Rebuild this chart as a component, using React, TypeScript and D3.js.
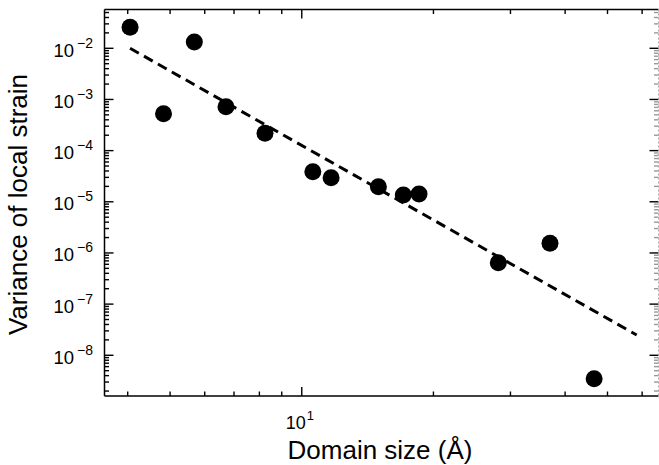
import React from "react";
import * as d3 from "d3";

// domain size (Å) and variance of local strain
const domainSize = [4.05, 4.83, 5.68, 6.71, 8.24, 10.6, 11.67, 14.97, 17.07, 18.54, 28.14, 36.94, 46.6];
const strainVar = [2.57e-2, 5.27e-4, 1.33e-2, 7.22e-4, 2.18e-4, 3.88e-5, 2.96e-5, 1.97e-5, 1.36e-5, 1.42e-5, 6.46e-7, 1.55e-6, 3.49e-9];

// power-law fit, end points
const fitX = [4.05, 58.3];
const fitY = [1.0e-2, 2.49e-8];

const xDomain = [3.54, 65.4];
const yDomain = [5.73e-2, 1.6e-9];
const xMajor = [10];
const yMajor = [-2, -3, -4, -5, -6, -7, -8];

const W = 659;
const H = 465;
const left = 104.5;
const right = 658.5;
const top = 9.5;
const bottom = 396;
const font = "'Liberation Sans', Arial, Helvetica, sans-serif";

export default function App() {
  const x = d3.scaleLog().domain(xDomain).range([left, right]);
  const y = d3.scaleLog().domain(yDomain).range([top, bottom]);

  // minor ticks inside the domain
  const xMinor: number[] = [];
  for (let d = 0; d <= 2; d++)
    for (let m = 1; m < 10; m++) {
      const v = m * Math.pow(10, d);
      if (v > xDomain[0] && v < xDomain[1]) xMinor.push(v);
    }
  const yMinor: number[] = [];
  for (let d = -9; d <= -1; d++)
    for (let m = 1; m < 10; m++) {
      const v = m * Math.pow(10, d);
      if (v < yDomain[0] && v > yDomain[1]) yMinor.push(v);
    }

  const line = d3
    .line<number>()
    .x((d) => x(d))
    .y((_, i) => y(fitY[i]));

  return (
    <svg width={W} height={H} style={{ position: "absolute", left: 0, top: 0 }} fontFamily={font}>
      <rect width={W} height={H} fill="#fff" />

      {/* ticks */}
      <g stroke="#000" strokeWidth={1.4}>
        {xMinor.map((v) => {
          const len = v === 10 ? 9 : 4.5;
          return (
            <g key={"x" + v}>
              <line x1={x(v)} x2={x(v)} y1={bottom} y2={bottom - len} />
              <line x1={x(v)} x2={x(v)} y1={top} y2={top + len} />
            </g>
          );
        })}
        {yMinor.map((v) => {
          const major = Math.abs(Math.log10(v) - Math.round(Math.log10(v))) < 1e-6;
          const len = major ? 9 : 4.5;
          return (
            <g key={"y" + v}>
              <line x1={left} x2={left + len} y1={y(v)} y2={y(v)} />
              <line x1={right} x2={right - len} y1={y(v)} y2={y(v)} stroke={major ? "#000" : "#999"} />
            </g>
          );
        })}
      </g>

      {/* frame */}
      <line x1={left} x2={right} y1={top} y2={top} stroke="#000" strokeWidth={1.5} />
      <line x1={left} x2={right} y1={bottom} y2={bottom} stroke="#000" strokeWidth={1.5} />
      <line x1={left} x2={left} y1={top} y2={bottom} stroke="#000" strokeWidth={1.5} />
      <line x1={right} x2={right} y1={top} y2={bottom} stroke="#aaa" strokeWidth={1} strokeDasharray="2,2" />

      {/* tick labels */}
      {xMajor.map((v) => (
        <text key={v} x={x(v) - 2} y={429} fontSize={18} textAnchor="middle">
          10
          <tspan fontSize={13} dy={-9} dx={1}>
            {Math.log10(v)}
          </tspan>
        </text>
      ))}
      {yMajor.map((e) => (
        <text key={e} x={93} y={y(Math.pow(10, e)) + 8.5} fontSize={18.5} textAnchor="end">
          10
          <tspan fontSize={14} dy={-9} dx={3}>
            {"\u2212" + Math.abs(e)}
          </tspan>
        </text>
      ))}

      {/* fit */}
      <path d={line(fitX) || ""} fill="none" stroke="#000" strokeWidth={3} strokeDasharray="10,6" />

      {/* data */}
      {domainSize.map((d, i) => (
        <circle key={i} cx={x(d)} cy={y(strainVar[i])} r={8.5} fill="#000" />
      ))}

      {/* axis titles */}
      <text x={380} y={459} fontSize={26} textAnchor="middle">
        Domain size (Å)
      </text>
      <text transform="translate(27,204.5) rotate(-90)" fontSize={26} textAnchor="middle">
        Variance of local strain
      </text>
    </svg>
  );
}
